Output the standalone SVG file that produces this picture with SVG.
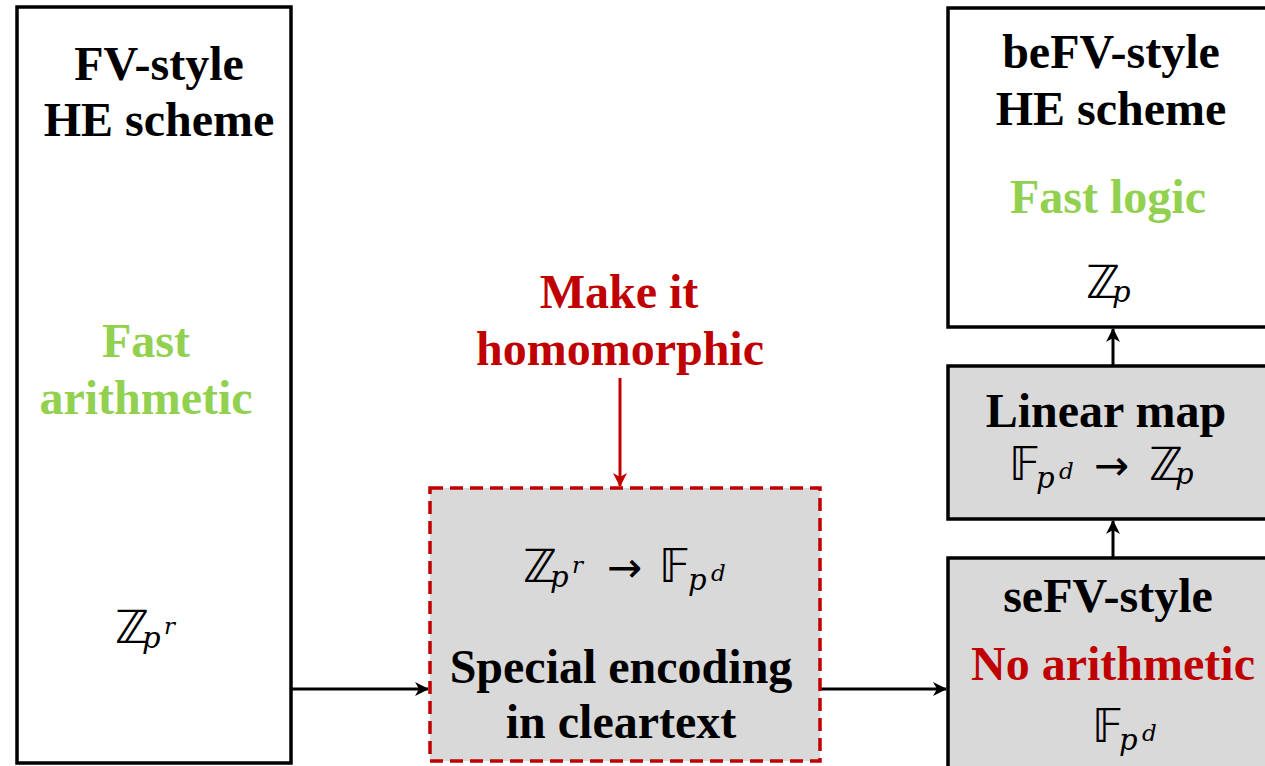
<svg xmlns="http://www.w3.org/2000/svg" width="1265" height="766" viewBox="0 0 1265 766">
<style>
.t{font-family:"Liberation Serif","Times New Roman",serif;font-weight:bold;font-size:48px;text-anchor:middle}
.blk{fill:#000}
.grn{fill:#92d050}
.red{fill:#c00000}
.bb{font-family:"DejaVu Sans",sans-serif;font-size:46px;fill:#000}
.ar{font-family:"DejaVu Sans",sans-serif;font-size:42px;fill:#000}
.mi{font-family:"DejaVu Serif",serif;font-style:italic;font-size:29px;fill:#000}
.sup{font-family:"DejaVu Serif",serif;font-style:italic;font-size:23px;fill:#000}
.box{fill:#fff;stroke:#000;stroke-width:3.5}
.gbox{fill:#d9d9d9;stroke:#000;stroke-width:3.5}
.conn{stroke:#000;stroke-width:3;fill:none}
</style>
<defs>
<marker id="ah" viewBox="0 0 14 14" refX="13" refY="7" markerWidth="14" markerHeight="14" markerUnits="userSpaceOnUse" orient="auto">
<path d="M0,0 L14,7 L0,14 L4,7 Z" fill="#000"/>
</marker>
<marker id="ahr" viewBox="0 0 14 14" refX="13" refY="7" markerWidth="14" markerHeight="14" markerUnits="userSpaceOnUse" orient="auto">
<path d="M0,0 L14,7 L0,14 L4,7 Z" fill="#c00000"/>
</marker>
</defs>

<g id="connectors">
<line class="conn" x1="291" y1="689" x2="428" y2="689" marker-end="url(#ah)"/>
<line class="conn" x1="820" y1="689" x2="946" y2="689" marker-end="url(#ah)"/>
<line class="conn" x1="1113" y1="557" x2="1113" y2="521" marker-end="url(#ah)"/>
<line class="conn" x1="1113" y1="365" x2="1113" y2="329" marker-end="url(#ah)"/>
<line x1="620" y1="378" x2="620" y2="486" stroke="#c00000" stroke-width="3" marker-end="url(#ahr)"/>
</g>

<g id="fv-scheme">
<rect class="box" x="17" y="7" width="274" height="756"/>
<text class="t blk" x="159" y="80">FV-style</text>
<text class="t blk" x="159" y="136">HE scheme</text>
<text class="t grn" x="146" y="357">Fast</text>
<text class="t grn" x="146" y="414">arithmetic</text>
<text><tspan class="bb" x="115" y="643">ℤ</tspan><tspan class="mi" x="142" y="648">p</tspan><tspan class="sup" x="164" y="634">r</tspan></text>
</g>

<g id="make-homomorphic">
<text class="t red" x="619" y="308">Make it</text>
<text class="t red" x="620" y="365">homomorphic</text>
</g>

<g id="special-encoding">
<rect x="430" y="488" width="390" height="273" fill="#d9d9d9" stroke="#c00000" stroke-width="3.5" stroke-dasharray="13,7"/>
<text><tspan class="bb" x="523" y="582">ℤ</tspan><tspan class="mi" x="550" y="587">p</tspan><tspan class="sup" x="572" y="573">r</tspan><tspan class="ar" x="607" y="582">→</tspan><tspan class="bb" x="659" y="582">𝔽</tspan><tspan class="mi" x="688" y="590">p</tspan><tspan class="sup" x="711" y="581">d</tspan></text>
<text class="t blk" x="621" y="683">Special encoding</text>
<text class="t blk" x="621" y="738">in cleartext</text>
</g>

<g id="befv-scheme">
<rect class="box" x="948" y="8" width="330" height="319"/>
<text class="t blk" x="1111" y="68">beFV-style</text>
<text class="t blk" x="1111" y="125">HE scheme</text>
<text class="t grn" x="1108" y="213">Fast logic</text>
<text><tspan class="bb" x="1086" y="298">ℤ</tspan><tspan class="mi" x="1112" y="302">p</tspan></text>
</g>

<g id="linear-map">
<rect class="gbox" x="948" y="366" width="330" height="153"/>
<text class="t blk" x="1106" y="427">Linear map</text>
<text><tspan class="bb" x="1009" y="480">𝔽</tspan><tspan class="mi" x="1036" y="488">p</tspan><tspan class="sup" x="1059" y="479">d</tspan><tspan class="ar" x="1094" y="480">→</tspan><tspan class="bb" x="1149" y="480">ℤ</tspan><tspan class="mi" x="1175" y="484">p</tspan></text>
</g>

<g id="sefv-scheme">
<rect class="gbox" x="948" y="558" width="330" height="215"/>
<text class="t blk" x="1108" y="612">seFV-style</text>
<text class="t red" x="1113" y="680">No arithmetic</text>
<text><tspan class="bb" x="1092" y="742">𝔽</tspan><tspan class="mi" x="1119" y="750">p</tspan><tspan class="sup" x="1142" y="741">d</tspan></text>
</g>
</svg>
